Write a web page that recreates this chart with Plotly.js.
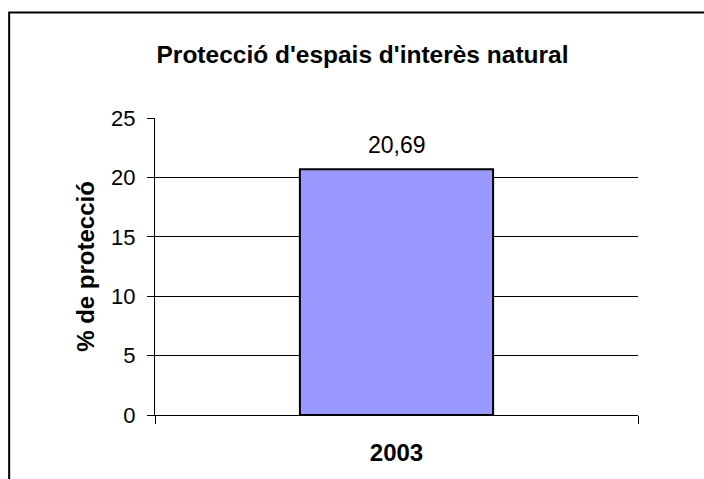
<!DOCTYPE html>
<html>
<head>
<meta charset="utf-8">
<script src="https://cdn.plot.ly/plotly-3.0.1.min.js"></script>
<style>
  html, body { margin: 0; padding: 0; background: #fff; }
  #chart { width: 704px; height: 479px; }
</style>
</head>
<body>
<div id="chart"></div>
<script>
const categories = ["2003"];
const values = [20.69];
const yTicks = [0, 5, 10, 15, 20, 25];

const FONT = "Arial, 'Liberation Sans', sans-serif";

const trace = {
  type: "bar",
  x: categories,
  y: values,
  width: 0.4,
  marker: { color: "#9999FF", line: { color: "#000000", width: 2 } },
  hoverinfo: "skip"
};

const annotations = categories.map((c, i) => ({
  x: i, y: values[i], xref: "x", yref: "y",
  text: values[i].toFixed(2).replace(".", ","),
  showarrow: false, xanchor: "center", yanchor: "bottom",
  yshift: 9,
  font: { family: FONT, size: 23, color: "#000" }
}));

const layout = {
  width: 704,
  height: 479,
  margin: { l: 154.5, r: 66, t: 118, b: 64 },
  paper_bgcolor: "#ffffff",
  plot_bgcolor: "#ffffff",
  showlegend: false,
  font: { family: FONT, size: 22, color: "#000" },
  title: {
    text: "<b>Protecció d'espais d'interès natural</b>",
    font: { family: FONT, size: 24.5, color: "#000" },
    x: 362.5 / 704, xref: "container", xanchor: "center",
    y: 1 - 54 / 479, yref: "container", yanchor: "middle"
  },
  xaxis: {
    type: "category",
    range: [-0.5, categories.length - 0.5],
    autorange: false,
    tickson: "boundaries",
    ticks: "outside",
    ticklen: 8,
    tickcolor: "#000",
    tickwidth: 1,
    showline: true,
    linecolor: "#000",
    linewidth: 1,
    showgrid: false,
    zeroline: false,
    tickangle: 0,
    tickfont: { family: FONT, size: 24, color: "#000", weight: "bold" },
    ticklabelstandoff: 16,
    fixedrange: true
  },
  yaxis: {
    range: [0, 25],
    autorange: false,
    tickvals: yTicks,
    ticktext: yTicks.map(String),
    ticks: "outside",
    ticklen: 7,
    tickcolor: "#000",
    tickwidth: 1,
    showline: true,
    linecolor: "#000",
    linewidth: 1,
    showgrid: true,
    gridcolor: "#000",
    gridwidth: 1,
    zeroline: false,
    tickfont: { family: FONT, size: 22, color: "#000" },
    ticklabelstandoff: 7,
    title: {
      text: "<b>% de protecció</b>",
      font: { family: FONT, size: 24, color: "#000" },
      standoff: 9
    },
    fixedrange: true
  },
  annotations: annotations,
  shapes: [{
    type: "rect",
    xref: "paper", yref: "paper",
    x0: (8.5 - 154.5) / 483.5, x1: 1.3,
    y0: -0.4, y1: (415 - 12.5) / 297,
    line: { color: "#000", width: 2 },
    fillcolor: "rgba(0,0,0,0)",
    layer: "below"
  }]
};

Plotly.newPlot("chart", [trace], layout, { displayModeBar: false, staticPlot: true });
</script>
</body>
</html>
